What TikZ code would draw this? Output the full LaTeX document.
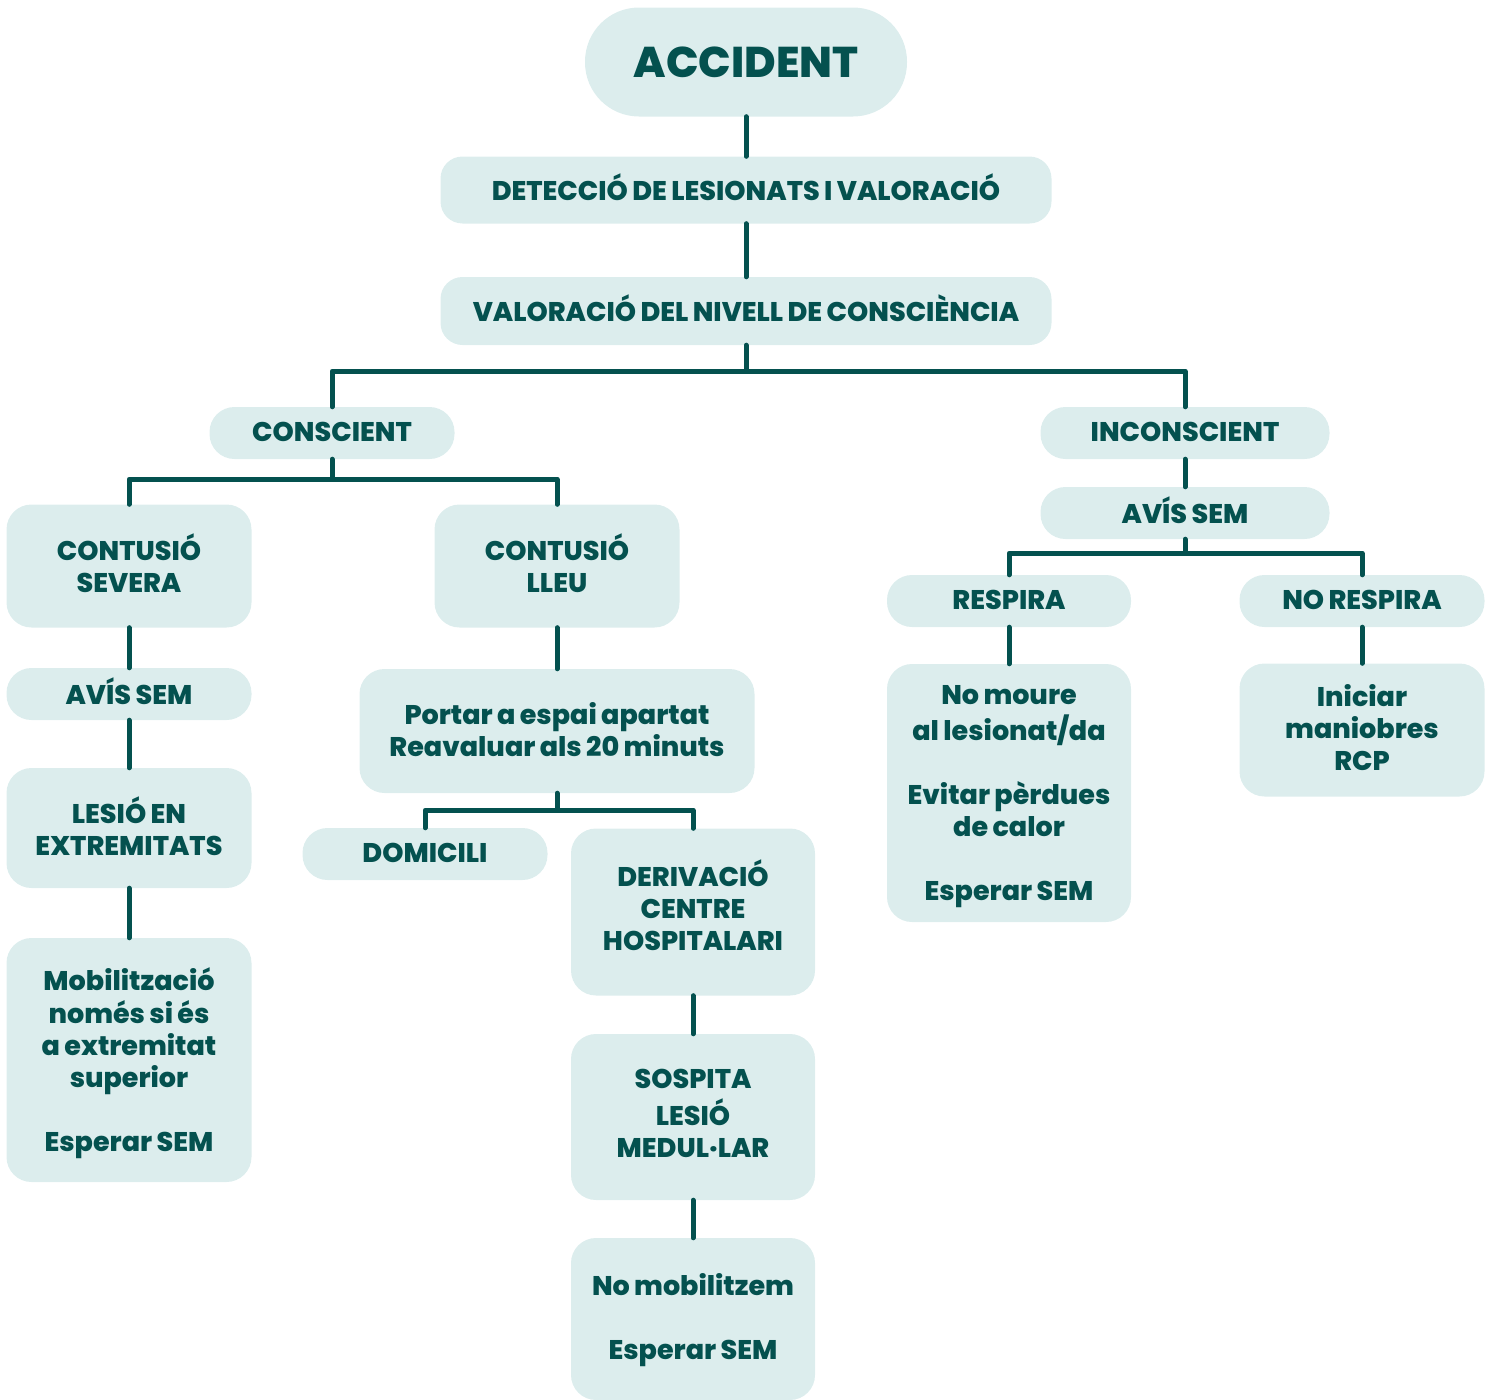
\documentclass[tikz,border=0pt]{standalone}
\usepackage{fontspec}
\setmainfont{Poppins}[BoldFont={Poppins ExtraBold}, BoldFeatures={WordSpace=0.85}]
\definecolor{boxfill}{HTML}{DCEDED}
\definecolor{dark}{HTML}{04514F}
\newcommand\tx[2][0pt]{\raisebox{\dimexpr-17pt+#1\relax}{\smash{\begin{tabular}{@{}c@{}}#2\end{tabular}}}}
\begin{document}
\begin{tikzpicture}[x=1pt,y=-1pt,
  box/.style={fill=boxfill, rounded corners=25pt, inner sep=0pt,
    text=dark, font=\fontsize{27}{32}\selectfont\bfseries},
  conn/.style={draw=dark, line width=5pt, line cap=round, line join=round}]
\useasboundingbox (0,0) rectangle (1492,1400);
\clip (0,0) rectangle (1492,1400);
% top
\node[box, rounded corners=54pt, minimum width=322pt, minimum height=109pt,
  font=\fontsize{43}{50}\selectfont\bfseries] (acc) at (746,62) {\tx[-6pt]{ACCIDENT}};
\node[box, rounded corners=22pt, minimum width=611pt, minimum height=67pt] (det) at (746,190) {\tx{DETECCIÓ DE LESIONATS I VALORACIÓ}};
\node[box, rounded corners=22pt, minimum width=611pt, minimum height=68pt] (val) at (746,311) {\tx{VALORACIÓ DEL NIVELL DE CONSCIÈNCIA}};
% level 2
\node[box, minimum width=245pt, minimum height=52pt] (cons) at (332,433) {\tx{CONSCIENT}};
\node[box, minimum width=289pt, minimum height=52pt] (incons) at (1185,433) {\tx{INCONSCIENT}};
% left branch
\node[box, minimum width=245pt, minimum height=123pt] (sev) at (129,566) {\tx{CONTUSIÓ\\SEVERA}};
\node[box, minimum width=245pt, minimum height=123pt] (lleu) at (557,566) {\tx{CONTUSIÓ\\LLEU}};
\node[box, minimum width=245pt, minimum height=52pt] (avis1) at (129,694) {\tx[1pt]{AVÍS SEM}};
\node[box, minimum width=245pt, minimum height=120pt] (lesio) at (129,828) {\tx[-1pt]{LESIÓ EN\\EXTREMITATS}};
\node[box, minimum width=245pt, minimum height=244pt] (mob) at (129,1060) {\tx[-4pt]{Mobilització\\només si és\\a extremitat\\superior\\ \\Esperar SEM}};
\node[box, minimum width=395pt, minimum height=124pt] (port) at (557,731) {\tx[-1pt]{Portar a espai apartat\\Reavaluar als 20 minuts}};
\node[box, minimum width=245pt, minimum height=52pt] (dom) at (425,854) {\tx{DOMICILI}};
\node[box, minimum width=244pt, minimum height=167pt] (der) at (693,912) {\tx[8pt]{DERIVACIÓ\\CENTRE\\HOSPITALARI}};
\node[box, minimum width=244pt, minimum height=166pt] (sos) at (693,1117) {\tx[5pt]{SOSPITA\\LESIÓ\\MEDUL·LAR}};
\node[box, minimum width=244pt, minimum height=162pt] (nomob) at (693,1319) {\tx[1pt]{No mobilitzem\\ \\Esperar SEM}};
% right branch
\node[box, minimum width=289pt, minimum height=52pt] (avis2) at (1185,513) {\tx{AVÍS SEM}};
\node[box, minimum width=244pt, minimum height=52pt] (resp) at (1009,601) {\tx{RESPIRA}};
\node[box, minimum width=245pt, minimum height=52pt] (noresp) at (1362,601) {\tx{NO RESPIRA}};
\node[box, minimum width=244pt, minimum height=258pt] (moure) at (1009,793) {\tx[-2pt]{No moure\\al lesionat/da\\ \\Evitar pèrdues\\de calor\\ \\Esperar SEM}};
\node[box, minimum width=245pt, minimum height=133pt] (inic) at (1362,730) {\tx{Iniciar\\maniobres\\RCP}};
% connectors
\draw[conn] (acc.south) -- (det.north);
\draw[conn] (det.south) -- (val.north);
\draw[conn] (val.south) -- ([yshift=-26pt]val.south) -| (cons.north);
\draw[conn] ([yshift=-26pt]val.south) -| (incons.north);
\draw[conn] (cons.south) -- ([yshift=-20pt]cons.south) -| (sev.north);
\draw[conn] ([yshift=-20pt]cons.south) -| (lleu.north);
\draw[conn] (sev.south) -- (avis1.north);
\draw[conn] (avis1.south) -- (lesio.north);
\draw[conn] (lesio.south) -- (mob.north);
\draw[conn] (lleu.south) -- (port.north);
\draw[conn] (port.south) -- ([yshift=-17pt]port.south) -| (dom.north);
\draw[conn] ([yshift=-17pt]port.south) -| (der.north);
\draw[conn] (der.south) -- (sos.north);
\draw[conn] (sos.south) -- (nomob.north);
\draw[conn] (incons.south) -- (avis2.north);
\draw[conn] (avis2.south) -- ([yshift=-14pt]avis2.south) -| (resp.north);
\draw[conn] ([yshift=-14pt]avis2.south) -| (noresp.north);
\draw[conn] (resp.south) -- (moure.north);
\draw[conn] (noresp.south) -- (inic.north);
\end{tikzpicture}
\end{document}
